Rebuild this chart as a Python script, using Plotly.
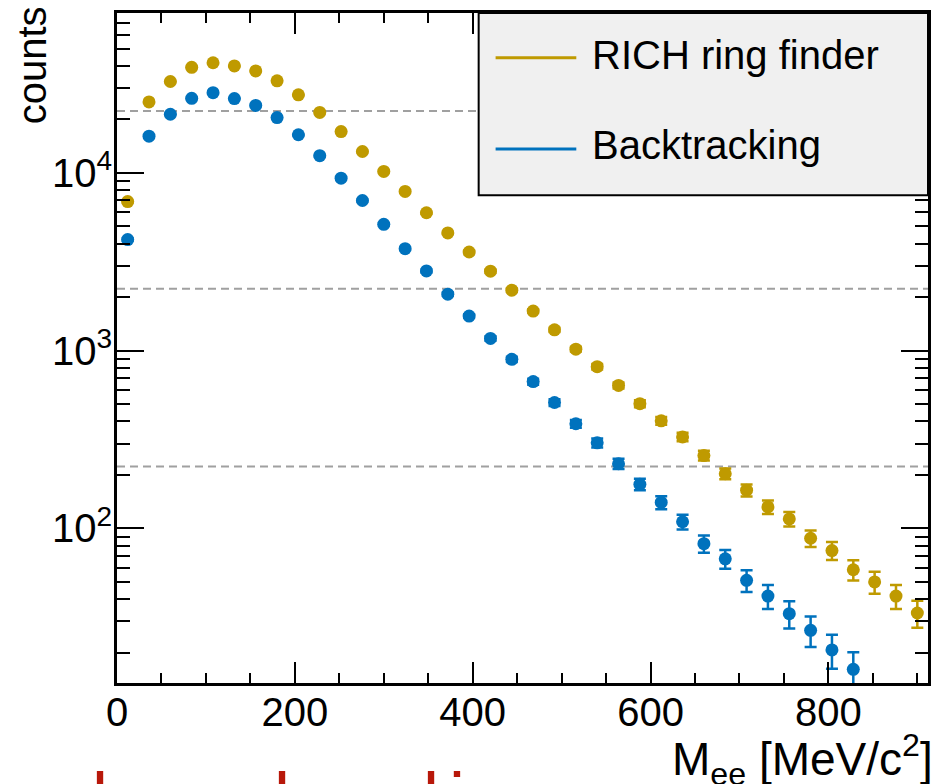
import plotly.graph_objects as go

# ---- data ----
mass_gold = [12, 36, 60, 84, 108, 132, 156, 180, 204, 228, 252, 276, 300, 324, 348, 372, 396, 420, 444,
             468, 492, 516, 540, 564, 588, 612, 636, 660, 684, 708, 732, 756, 780, 804, 828, 852, 876, 900]
counts_rich = [6900, 25100, 32700, 39300, 41700, 40000, 37500, 33000, 27500, 21900, 17100, 13200, 10200,
               7870, 5970, 4600, 3590, 2800, 2190, 1670, 1310, 1020, 813, 637, 503, 403, 327, 257, 203,
               164, 132, 113, 88, 75, 58.5, 50, 41.6, 33.4]
err_rich = [83, 158, 181, 198, 204, 200, 194, 182, 166, 148, 131, 115, 101, 89, 77, 68, 60, 53, 47, 41,
            36, 32, 28.5, 25.2, 22.4, 20.1, 18.1, 16, 14.2, 12.8, 11.5, 10.6, 9.4, 8.7, 7.6, 7.1, 6.4, 5.8]

mass_blue = [12, 36, 60, 84, 108, 132, 156, 180, 204, 228, 252, 276, 300, 324, 348, 372, 396, 420, 444,
             468, 492, 516, 540, 564, 588, 612, 636, 660, 684, 708, 732, 756, 780, 804, 828]
counts_back = [4220, 16100, 21400, 26300, 28300, 26200, 24000, 20500, 16400, 12500, 9340, 7000, 5140,
               3750, 2810, 2080, 1565, 1172, 894, 670, 511, 388, 303, 231, 177, 140, 109, 82, 67.4, 51,
               41.6, 33.1, 26.7, 20.7, 16.1]
err_back = [65, 127, 146, 162, 168, 162, 155, 143, 128, 112, 97, 84, 72, 61, 53, 46, 40, 34, 30, 26,
            22.6, 19.7, 17.4, 15.2, 13.3, 11.8, 10.4, 9.1, 8.2, 7.1, 6.4, 5.8, 5.2, 4.5, 4.0]

series_names = ["RICH ring finder", "Backtracking"]
ref_levels = [22300, 2230, 223]
x_tick_vals = [0, 200, 400, 600, 800]
y_tick_vals = [100, 1000, 10000]
y_tick_text = ["10<sup>2</sup>", "10<sup>3</sup>", "10<sup>4</sup>"]

GOLD = "#bf9a00"
BLUE = "#0072bd"
FONT = "Liberation Sans, Arial, sans-serif"

W, H = 941, 784
ML, MR, MT, MB = 117, 10, 10, 101
PW, PH = W - ML - MR, H - MT - MB


def px(xp):
    return (xp - ML) / PW


def py(yp):
    return (H - MB - yp) / PH


fig = go.Figure()
for xs, ys, es, col, name in [(mass_gold, counts_rich, err_rich, GOLD, series_names[0]),
                              (mass_blue, counts_back, err_back, BLUE, series_names[1])]:
    fig.add_trace(go.Scatter(
        x=xs, y=ys, mode="markers", name=name, showlegend=False,
        marker=dict(color=col, size=13, symbol="circle"),
        error_y=dict(type="data", array=es, color=col, thickness=2.5, width=6),
    ))

shapes = []
for lv in ref_levels:
    shapes.append(dict(type="line", xref="paper", yref="y", x0=0, x1=1, y0=lv, y1=lv,
                       line=dict(color="#a0a0a0", width=2, dash="8px,5px"), layer="below"))

# legend box (drawn by hand to match the original style)
shapes.append(dict(type="rect", xref="paper", yref="paper", x0=px(480), x1=1.0, y0=py(193), y1=1.0,
                   fillcolor="#f0f0f0", line=dict(color="black", width=2), layer="above"))
for yl, col in [(55, GOLD), (146.7, BLUE)]:
    shapes.append(dict(type="line", xref="paper", yref="paper", x0=px(497), x1=px(578), y0=py(yl), y1=py(yl),
                       line=dict(color=col, width=3), layer="above"))

annotations = [
    dict(text=series_names[0], x=px(592), y=py(52.5), xref="paper", yref="paper", xanchor="left",
         yanchor="middle", showarrow=False, font=dict(size=40, color="black", family=FONT)),
    dict(text=series_names[1], x=px(592), y=py(142.5), xref="paper", yref="paper", xanchor="left",
         yanchor="middle", showarrow=False, font=dict(size=40, color="black", family=FONT)),
    dict(text="counts", textangle=-90, x=px(32), y=py(1), xref="paper", yref="paper", xanchor="center",
         yanchor="top", showarrow=False, font=dict(size=40, color="black", family=FONT)),
    dict(text="M<sub>ee</sub> [MeV/c<sup>2</sup>]", x=px(938), y=py(760), xref="paper", yref="paper",
         xanchor="right", yanchor="middle", showarrow=False, font=dict(size=46, color="black", family=FONT)),
]
# fragments of large red text cut off at the bottom of the picture
for ch, xp in [("l", 100), ("l", 283), ("l", 432), ("i", 458)]:
    annotations.append(dict(text=ch, x=px(xp), y=py(756), xref="paper", yref="paper", xanchor="center",
                            yanchor="top", showarrow=False,
                            font=dict(size=72, color="#b8180a", family=FONT)))

fig.update_layout(
    width=W, height=H, margin=dict(l=ML, r=MR, t=MT, b=MB, pad=0),
    paper_bgcolor="white", plot_bgcolor="white",
    shapes=shapes, annotations=annotations, showlegend=False,
    font=dict(family=FONT, color="black"),
)
fig.update_xaxes(
    range=[0, 912], showgrid=False, zeroline=False,
    showline=True, linecolor="black", linewidth=3, mirror="allticks",
    ticks="inside", ticklen=21, tickwidth=2, tickcolor="black",
    tickvals=x_tick_vals, tickfont=dict(size=40, family=FONT, color="black"),
    ticklabelstandoff=-8,
    minor=dict(ticks="inside", ticklen=10, tickwidth=2, tickcolor="black", dtick=50, showgrid=False),
)
fig.update_yaxes(
    type="log", range=[1.130, 4.900], showgrid=False, zeroline=False,
    showline=True, linecolor="black", linewidth=3, mirror="allticks",
    ticks="inside", ticklen=27, tickwidth=2, tickcolor="black",
    tickvals=y_tick_vals, ticktext=y_tick_text, tickfont=dict(size=40, family=FONT, color="black"),
    ticklabelstandoff=-6,
    minor=dict(ticks="inside", ticklen=13, tickwidth=2, tickcolor="black", dtick="D1", showgrid=False),
)

fig.write_html("out.html")
